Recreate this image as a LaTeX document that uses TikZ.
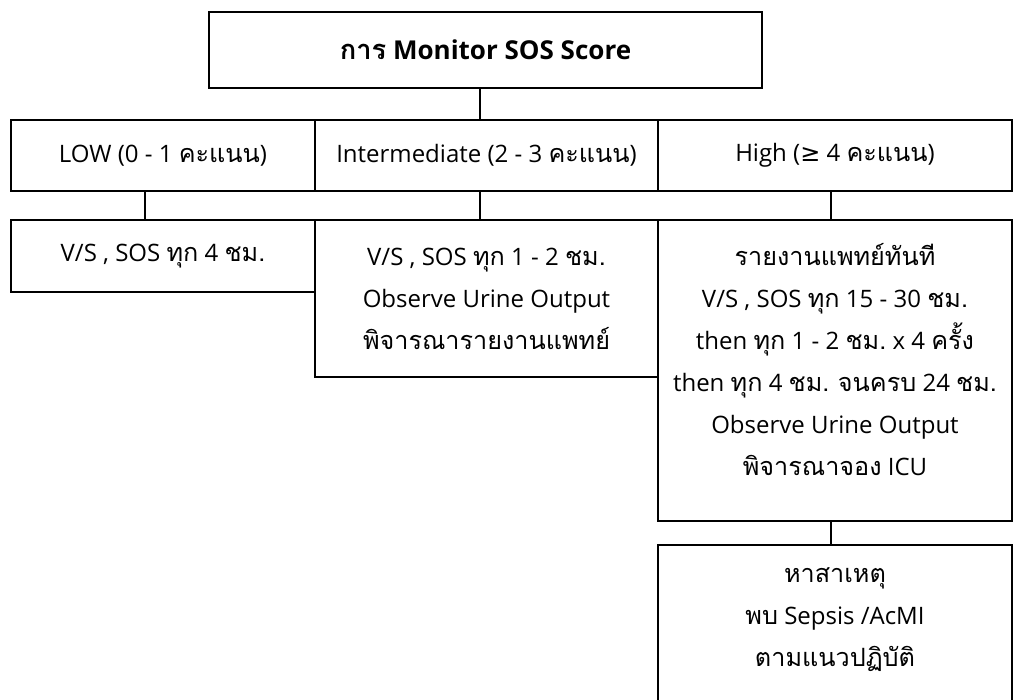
\documentclass[tikz,border=0pt]{standalone}
\usepackage{fontspec}
\setmainfont{Open Sans}
\newfontfamily\tf[Script=Thai,Scale=1.05]{Loma}
\newfontfamily\symf{DejaVu Sans}
\frenchspacing
\begin{document}
\begin{tikzpicture}[x=1pt,y=-1pt,
  box/.style={draw, line width=1.2pt, inner sep=0pt, align=center,
    font=\fontsize{24}{42}\selectfont},
  txt/.style={inner sep=0pt, align=center, font=\fontsize{24}{42}\selectfont},
  link/.style={line width=1.2pt}]
\useasboundingbox (0,0) rectangle (1013,700);
\node[box, minimum width=553pt, minimum height=76pt, font=\fontsize{26}{42}\selectfont\bfseries] (top) at (485.5,50) {{\tf การ} Monitor SOS Score};
\node[box, minimum width=304pt, minimum height=71pt] (low) at (163,155.5) {LOW (0 - 1 {\tf คะแนน})};
\node[box, minimum width=343pt, minimum height=71pt] (mid) at (486.5,155.5) {Intermediate (2 - 3 {\tf คะแนน})};
\node[box, minimum width=354pt, minimum height=71pt] (high) at (835,155.5) {High ({\symf ≥} 4 {\tf คะแนน})};
\node[box, minimum width=304pt, minimum height=72pt] (lowact) at (163,256) {V/S , SOS {\tf ทุก} 4 {\tf ชม.}};
\node[box, minimum width=343pt, minimum height=157pt] (midact) at (486.5,298.5) {V/S , SOS {\tf ทุก} 1 - 2 {\tf ชม.}\\Observe Urine Output\\{\tf พิจารณารายงานแพทย์}};
\node[box, minimum width=354pt, minimum height=301pt] (highact) at (835,370.5) {};
\node[txt] (hightxt) at (835,360) {{\tf รายงานแพทย์ทันที}\\V/S , SOS {\tf ทุก} 15 - 30 {\tf ชม.}\\then {\tf ทุก} 1 - 2 {\tf ชม.} x 4 {\tf ครั้ง}\\then {\tf ทุก} 4 {\tf ชม. จนครบ} 24 {\tf ชม.}\\Observe Urine Output\\{\tf พิจารณาจอง} ICU};
\node[box, minimum width=354pt, minimum height=175pt] (cause) at (835,632.5) {};
\node[txt] (causetxt) at (835,620) {{\tf หาสาเหตุ}\\{\tf พบ} Sepsis /AcMI\\{\tf ตามแนวปฏิบัติ}};
\draw[link] ([xshift=-5.5pt]top.south) -- ([xshift=-6.5pt]mid.north);
\draw[link] ([xshift=-18pt]low.south) -- ([xshift=-18pt]lowact.north);
\draw[link] ([xshift=-6.5pt]mid.south) -- ([xshift=-6.5pt]midact.north);
\draw[link] ([xshift=-4pt]high.south) -- ([xshift=-4pt]highact.north);
\draw[link] ([xshift=-4pt]highact.south) -- ([xshift=-4pt]cause.north);
\end{tikzpicture}
\end{document}
